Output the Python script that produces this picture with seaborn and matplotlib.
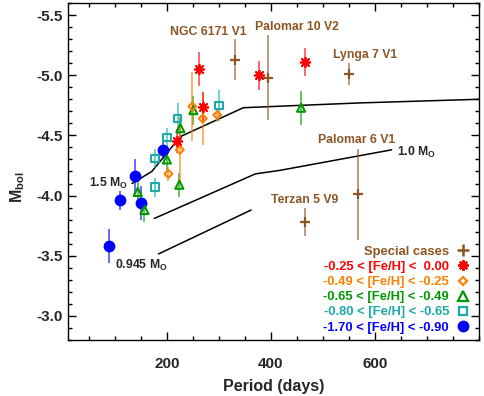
import numpy as np
import pandas as pd
import matplotlib
matplotlib.use("Agg")
import matplotlib.pyplot as plt
from matplotlib.lines import Line2D
from matplotlib.ticker import MultipleLocator, FixedLocator, FormatStrFormatter
import seaborn as sns

# ---------------- data ----------------
# Special cases (brown +)
special_names = ["NGC 6171 V1", "Palomar 10 V2", "Lynga 7 V1", "Palomar 6 V1", "Terzan 5 V9"]
special_period = [331, 394, 551, 568, 465]
special_mbol = [-5.13, -4.98, -5.01, -4.01, -3.78]
special_err = [0.17, 0.35, 0.09, 0.38, 0.12]
special_label_x = [279, 451, 581, 565, 465]
special_label_y = [-5.36, -5.40, -5.17, -4.46, -3.96]

# -0.25 < [Fe/H] < 0.00 (red asterisk)
red_period = [261, 269, 219, 378, 466]
red_mbol = [-5.05, -4.74, -4.45, -5.00, -5.11]
red_err = [0.14, 0.12, 0.10, 0.12, 0.12]

# -0.49 < [Fe/H] < -0.25 (orange diamond)
orange_period = [249, 269, 297, 225, 203]
orange_mbol = [-4.74, -4.64, -4.67, -4.38, -4.18]
orange_err = [0.29, 0.22, 0.06, 0.26, 0.06]

# -0.65 < [Fe/H] < -0.49 (green triangle)
green_period = [251, 226, 200, 224, 144, 157, 458]
green_mbol = [-4.71, -4.56, -4.30, -4.09, -4.03, -3.88, -4.73]
green_err = [0.12, 0.09, 0.10, 0.10, 0.10, 0.10, 0.14]

# -0.80 < [Fe/H] < -0.65 (teal square)
teal_period = [177, 200, 221, 300, 177]
teal_mbol = [-4.31, -4.48, -4.64, -4.75, -4.07]
teal_err = [0.08, 0.08, 0.13, 0.13, 0.08]

# -1.70 < [Fe/H] < -0.90 (blue circle)
blue_period = [139, 109, 150, 89, 193]
blue_mbol = [-4.16, -3.96, -3.94, -3.58, -4.38]
blue_err = [0.14, 0.08, 0.14, 0.14, 0.08]

# Model tracks
m15_period = [133, 171, 226, 347, 572, 800]
m15_mbol = [-4.10, -4.20, -4.49, -4.73, -4.77, -4.80]
m10_period = [176, 370, 418, 632]
m10_mbol = [-3.81, -4.18, -4.21, -4.38]
m0945_period = [184, 362]
m0945_mbol = [-3.515, -3.88]

legend_labels = ["Special cases",
                 "-0.25 < [Fe/H] <  0.00",
                 "-0.49 < [Fe/H] < -0.25",
                 "-0.65 < [Fe/H] < -0.49",
                 "-0.80 < [Fe/H] < -0.65",
                 "-1.70 < [Fe/H] < -0.90"]

# ---------------- style ----------------
sns.set_theme(style="ticks")
plt.rcParams["font.family"] = ["Liberation Sans", "DejaVu Sans"]
plt.rcParams["font.weight"] = "bold"
plt.rcParams["axes.labelweight"] = "bold"
plt.rcParams["axes.unicode_minus"] = False
plt.rcParams["mathtext.fontset"] = "custom"
plt.rcParams["mathtext.rm"] = "Liberation Sans:bold"
plt.rcParams["mathtext.it"] = "Liberation Sans:bold"
plt.rcParams["mathtext.bf"] = "Liberation Sans:bold"

BROWN = "#8c5523"
RED = "#ff0000"
ORANGE = "#ff8000"
GREEN = "#009900"
TEAL = "#1aaaaa"
BLUE = "#0000ff"

fig = plt.figure(figsize=(4.85, 3.96), dpi=100)
ax = fig.add_axes([68 / 485, 56 / 396, 411 / 485, 337 / 396])

# model lines
models = pd.DataFrame({
    "period": m15_period + m10_period + m0945_period,
    "mbol": m15_mbol + m10_mbol + m0945_mbol,
    "model": ["1.5"] * len(m15_period) + ["1.0"] * len(m10_period) + ["0.945"] * len(m0945_period),
})
sns.lineplot(data=models, x="period", y="mbol", units="model", estimator=None,
             sort=False, color="black", lw=1.1, ax=ax, legend=False)

groups = [
    (special_period, special_mbol, special_err, BROWN, dict(marker="+", s=55, linewidths=1.6)),
    (red_period, red_mbol, red_err, RED, dict(marker=(8, 2, 0), s=48, linewidths=1.3)),
    (orange_period, orange_mbol, orange_err, ORANGE, dict(marker="D", s=16, linewidths=1.5, facecolor="none")),
    (green_period, green_mbol, green_err, GREEN, dict(marker="^", s=34, linewidths=1.5, facecolor="none")),
    (teal_period, teal_mbol, teal_err, TEAL, dict(marker="s", s=28, linewidths=1.5, facecolor="none")),
    (blue_period, blue_mbol, blue_err, BLUE, dict(marker="o", s=72, linewidths=0)),
]

for per, mb, er, col, kw in groups[::-1]:
    ax.errorbar(per, mb, yerr=er, fmt="none", ecolor=col, elinewidth=1.1,
                alpha=0.75, capsize=0, zorder=2)
for per, mb, er, col, kw in groups[::-1]:
    df = pd.DataFrame({"period": per, "mbol": mb})
    sns.scatterplot(data=df, x="period", y="mbol", edgecolor=col,
                    color=col, ax=ax, legend=False, zorder=3, **kw)

# labels for special cases
for name, lx, ly in zip(special_names, special_label_x, special_label_y):
    ax.text(lx, ly, name, color=BROWN, fontsize=8.8, fontweight="bold",
            ha="center", va="center")

# model labels
ax.text(126, -4.069, r"1.5 M$_{\rm O}$", fontsize=8.8, ha="right", va="baseline")
ax.text(643, -4.332, r"1.0 M$_{\rm O}$", fontsize=8.8, ha="left", va="baseline")
ax.text(101, -3.388, r"0.945 M$_{\rm O}$", fontsize=8.8, ha="left", va="baseline")

# axes
ax.set_xlim(10, 800)
ax.set_ylim(-2.8, -5.6)
ax.xaxis.set_major_locator(FixedLocator([200, 400, 600]))
ax.xaxis.set_minor_locator(MultipleLocator(50))
ax.yaxis.set_major_locator(FixedLocator([-5.5, -5.0, -4.5, -4.0, -3.5, -3.0]))
ax.yaxis.set_minor_locator(MultipleLocator(0.1))
ax.yaxis.set_major_formatter(FormatStrFormatter("%.1f"))
ax.tick_params(which="both", direction="in", top=True, right=True, color="black", width=1.0)
ax.tick_params(which="major", length=5.5)
ax.tick_params(which="minor", length=3)
ax.tick_params(axis="x", which="major", pad=12, labelsize=11)
ax.tick_params(axis="y", which="major", pad=3.5, labelsize=11)
for lab in ax.get_xticklabels() + ax.get_yticklabels():
    lab.set_fontweight("bold")
for sp in ax.spines.values():
    sp.set_linewidth(1.0)
    sp.set_color("black")

ax.set_xlabel("Period (days)", fontsize=11.5, fontweight="bold", labelpad=6)
ax.set_ylabel(r"M$_{\rm bol}$", fontsize=11.5, fontweight="bold")
ax.yaxis.set_label_coords(-0.10, 0.454)

# legend
handles = [
    Line2D([], [], ls="none", marker="+", color=BROWN, ms=8, mew=1.8),
    Line2D([], [], ls="none", marker=(8, 2, 0), color=RED, ms=7.5, mew=1.5),
    Line2D([], [], ls="none", marker="D", color=ORANGE, mfc="none", ms=4.5, mew=1.6),
    Line2D([], [], ls="none", marker="^", color=GREEN, mfc="none", ms=6.5, mew=1.6),
    Line2D([], [], ls="none", marker="s", color=TEAL, mfc="none", ms=6, mew=1.6),
    Line2D([], [], ls="none", marker="o", color=BLUE, ms=8.5, mew=0),
]
leg = ax.legend(handles, legend_labels, loc="lower right", bbox_to_anchor=(0.997, -0.004),
                frameon=False, markerfirst=False, handlelength=1.0, handletextpad=0.6,
                labelspacing=0.23, borderpad=0.1, prop={"size": 9.4, "weight": "bold"})
for txt, col in zip(leg.get_texts(), [BROWN, RED, ORANGE, GREEN, TEAL, BLUE]):
    txt.set_color(col)

fig.savefig("out.png", dpi=100)
